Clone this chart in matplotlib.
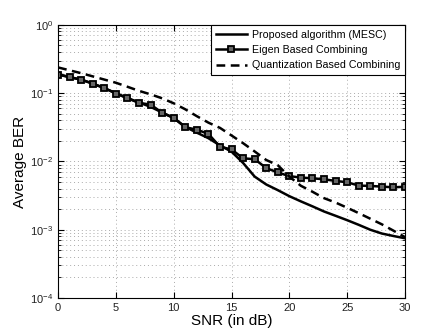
import matplotlib
matplotlib.use("Agg")
import matplotlib.pyplot as plt
import numpy as np

plt.rcParams['font.family'] = ['Liberation Sans', 'DejaVu Sans']

snr = list(range(0, 31))
proposed = [0.19, 0.172, 0.157, 0.138, 0.118, 0.100, 0.085, 0.073, 0.063, 0.052,
            0.0434, 0.032, 0.0264, 0.0219, 0.0172, 0.0139, 0.0095, 0.0060, 0.0046, 0.0038,
            0.0031, 0.0026, 0.0022, 0.00185, 0.0016, 0.00138, 0.00118, 0.00100, 0.00088, 0.00081,
            0.00075]
eigen = [0.187, 0.171, 0.158, 0.138, 0.119, 0.0987, 0.0842, 0.072, 0.068, 0.0517,
         0.0432, 0.0317, 0.0292, 0.0253, 0.0164, 0.0150, 0.0111, 0.0108, 0.0080, 0.0069,
         0.0061, 0.0058, 0.00567, 0.00548, 0.00518, 0.00496, 0.00443, 0.00438, 0.00428, 0.00418,
         0.00426]
quant = [0.238, 0.216, 0.196, 0.176, 0.158, 0.142, 0.124, 0.108, 0.096, 0.084,
         0.071, 0.058, 0.046, 0.037, 0.031, 0.024, 0.0185, 0.014, 0.0105, 0.0088,
         0.0060, 0.0044, 0.0036, 0.0029, 0.0025, 0.0021, 0.00175, 0.00145, 0.0012, 0.00097,
         0.00078]
labels = ['Proposed algorithm (MESC)', 'Eigen Based Combining', 'Quantization Based Combining']
xticks = [0, 5, 10, 15, 20, 25, 30]

fig = plt.figure(figsize=(4.47, 3.36), dpi=100)
ax = fig.add_axes([0.130, 0.113, 0.776, 0.813])

ax.semilogy(snr, proposed, '-', color='black', lw=1.8, label=labels[0])
ax.semilogy(snr, eigen, '-', color='black', lw=1.8, marker='s', markersize=5,
            markerfacecolor='#666666', markeredgecolor='black', markeredgewidth=1.3, label=labels[1])
ax.semilogy(snr, quant, '--', color='black', lw=1.8, dashes=(3.5, 2.2), label=labels[2])

ax.set_xlim(0, 30)
ax.set_ylim(1e-4, 1)
ax.set_xticks(xticks)
ax.set_yticks([1e-4, 1e-3, 1e-2, 1e-1, 1e0])
ax.tick_params(axis='both', which='both', direction='in', top=True, right=True,
               labelsize=8, labelcolor='#222222')
ax.tick_params(which='major', length=4)
ax.tick_params(which='minor', length=2)

ax.grid(True, which='major', linestyle=(0, (1, 3)), color='#aaaaaa', linewidth=0.7)
ax.grid(True, which='minor', axis='y', linestyle=(0, (1, 3)), color='#aaaaaa', linewidth=0.7)

ax.set_xlabel('SNR (in dB)', fontsize=11, labelpad=1)
ax.set_ylabel('Average BER', fontsize=11, labelpad=2)

leg = ax.legend(loc='upper right', fontsize=7.7, frameon=True, fancybox=False,
                edgecolor='black', borderaxespad=0, handlelength=2.9,
                labelspacing=0.5, borderpad=0.45, handletextpad=0.45, framealpha=1)
leg.get_frame().set_linewidth(0.8)

for s in ax.spines.values():
    s.set_linewidth(0.8)

fig.savefig('out.png', dpi=100)
